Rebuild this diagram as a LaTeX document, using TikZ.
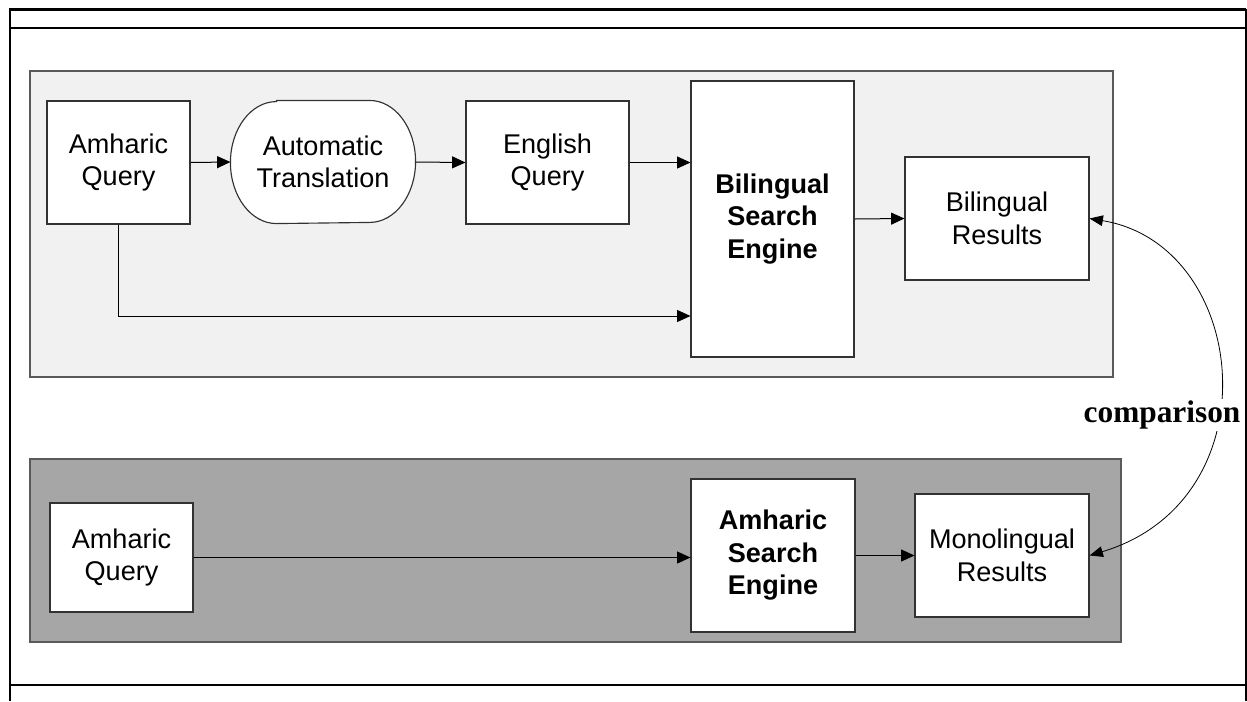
\documentclass[tikz,border=0pt]{standalone}
\usepackage{fontspec}
\setmainfont{Liberation Sans}
\newfontfamily\labelserif{Liberation Serif}
\usetikzlibrary{arrows.meta}
\definecolor{panellight}{RGB}{241,241,241}
\definecolor{paneldark}{RGB}{166,166,166}
\definecolor{boxedge}{RGB}{50,50,50}
\definecolor{paneledge}{RGB}{90,90,90}
\pgfdeclarelayer{bg}
\pgfsetlayers{bg,main}
\begin{document}
\begin{tikzpicture}[x=0.75pt,y=-0.75pt,
  box/.style={draw=boxedge, line width=0.85pt, fill=white, align=center,
    font=\fontsize{20.3}{24.4}\selectfont, inner sep=0pt},
  boldbox/.style={box, font=\bfseries\fontsize{20.3}{24.4}\selectfont},
  panel/.style={draw=paneledge, line width=1.1pt},
  frameline/.style={draw=black, line width=2.1pt},
  arr/.style={draw=black, line width=0.75pt, -{Triangle[length=10pt,width=9pt]}},
  biarr/.style={draw=black, line width=0.6pt,
    {Triangle[length=10pt,width=8pt]}-{Triangle[length=10pt,width=8pt]}}]

\useasboundingbox (0,0) rectangle (1247,701);

% outer frame
\draw[frameline] (9,9.5) -- (1246,9.5);
\draw[frameline] (9,28) -- (1246,28);
\draw[frameline] (9,685) -- (1246,685);
\draw[frameline] (10,9) -- (10,701);
\draw[frameline] (1246,9) -- (1246,701);

% the two panels
\begin{pgfonlayer}{bg}
  \draw[panel, fill=panellight] (30,71) rectangle (1113,377);
  \draw[panel, fill=paneldark] (30,459) rectangle (1121,642);
\end{pgfonlayer}

% bilingual pipeline
\node[box, minimum width=107.25pt, minimum height=92.25pt] (aq1) at (118.5,162.5) {Amharic\\Query};
\node[box, draw=none, fill=none, minimum width=138pt, minimum height=91.5pt] (at) at (323,162) {Automatic\\Translation};
\begin{pgfonlayer}{bg}
  \draw[draw=boxedge, line width=0.85pt, fill=white]
    ([xshift=34.5pt]at.north west) -- ([xshift=-34.5pt]at.north east)
    arc[start angle=90, end angle=-90, x radius=34.5pt, y radius=45.75pt]
    -- ([xshift=34.5pt]at.south west)
    arc[start angle=270, end angle=90, x radius=34.5pt, y radius=45.75pt] -- cycle;
\end{pgfonlayer}
\node[box, minimum width=122.25pt, minimum height=92.25pt] (eq) at (547.5,162.5) {English\\Query};
\node[boldbox, minimum width=122.25pt, minimum height=207pt] (bse) at (772.5,219) {Bilingual\\Search\\Engine};
\node[box, minimum width=138pt, minimum height=92.25pt] (br) at (997,218.5) {Bilingual\\Results};

% monolingual pipeline
\node[box, minimum width=107.25pt, minimum height=81.75pt] (aq2) at (121.5,557.5) {Amharic\\Query};
\node[boldbox, minimum width=123pt, minimum height=114.75pt] (ase) at (773,555.5) {Amharic\\Search\\Engine};
\node[box, minimum width=130.5pt, minimum height=92.25pt] (mr) at (1002,555.5) {Monolingual\\Results};

% connectors
\draw[arr] (aq1.east) -- (at.west);
\draw[arr] (at.east) -- (eq.west);
\draw[arr] (eq.east) -- (eq.east -| bse.west);
\draw[arr] (bse.east) -- (br.west);
\draw[arr] (aq1.south) |- ([yshift=-72.75pt]bse.west);
\draw[arr] (aq2.east) -- (aq2.east -| ase.west);
\draw[arr] (ase.east) -- (ase.east -| mr.west);

% comparison between the two result sets
\draw[biarr] (br.east) .. controls (1250,245) and (1275,500) .. (mr.east);
\node[fill=white, inner sep=1pt, font=\labelserif\bfseries\fontsize{23.5}{28}\selectfont] (cmp) at (1162,415) {comparison};

\end{tikzpicture}
\end{document}
